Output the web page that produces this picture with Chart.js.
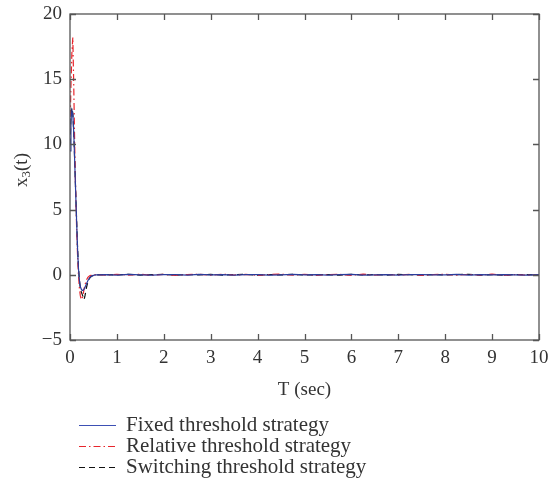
<!DOCTYPE html>
<html>
<head>
<meta charset="utf-8">
<script src="https://cdn.jsdelivr.net/npm/chart.js@4/dist/chart.umd.min.js"></script>
<style>
  html, body { margin: 0; padding: 0; background: #fff; }
  #wrap { width: 551px; height: 478px; }
</style>
</head>
<body>
<div id="wrap"><canvas id="myChart" width="551" height="478"></canvas></div>
<script>
// time samples (sec)
var times = [0, 0.02, 0.04, 0.06, 0.08, 0.10, 0.12, 0.14, 0.16, 0.18, 0.20, 0.22,
  0.24, 0.26, 0.28, 0.30, 0.32, 0.35, 0.38, 0.42, 0.46, 0.50, 0.55, 0.60,
  0.75, 1.0, 1.25, 1.5, 1.75, 2.0, 2.25, 2.5, 2.75, 3.0, 3.25, 3.5, 3.75, 4.0,
  4.25, 4.5, 4.75, 5.0, 5.25, 5.5, 5.75, 6.0, 6.25, 6.5, 6.75, 7.0, 7.25, 7.5,
  7.75, 8.0, 8.25, 8.5, 8.75, 9.0, 9.25, 9.5, 9.75, 10.0];

var fixedX3 = [9.5, 11.8, 12.6, 12.3, 10.9, 8.7, 6.4, 4.2, 2.1, 0.5, -0.4, -0.9,
  -1.1, -1.2, -1.2, -1.1, -0.95, -0.7, -0.45, -0.22, -0.1, -0.04, -0.01, 0.0,
  0.01, -0.02, 0.03, 0.0, -0.03, 0.02, 0.01, -0.02, 0.03, -0.01, 0.02, -0.03,
  0.01, 0.02, -0.02, 0.0, 0.03, -0.01, 0.02, -0.02, 0.01, 0.03, -0.02, 0.0,
  0.02, -0.03, 0.01, 0.02, -0.01, 0.0, 0.03, -0.02, 0.01, -0.01, 0.02, 0.0,
  -0.02, 0.01];

var relativeX3 = [11.0, 14.5, 17.0, 18.2, 14.5, 10.0, 6.5, 3.8, 1.6, 0.0, -1.0, -1.6,
  -1.9, -1.8, -1.5, -1.1, -0.75, -0.4, -0.2, -0.08, -0.02, 0.01, 0.0, 0.01,
  -0.03, 0.04, -0.02, 0.05, -0.04, 0.03, -0.05, 0.02, 0.04, -0.03, 0.05, -0.02,
  0.03, -0.04, 0.02, 0.05, -0.03, 0.04, -0.05, 0.02, 0.03, -0.04, 0.05, -0.02,
  0.03, -0.03, 0.04, -0.05, 0.02, 0.04, -0.03, 0.03, -0.02, 0.05, -0.04, 0.02,
  -0.03, 0.01];

var switchingX3 = [10.0, 12.0, 12.8, 12.4, 11.0, 8.8, 6.5, 4.3, 2.2, 0.6, -0.4, -1.0,
  -1.3, -1.5, -1.7, -1.9, -1.6, -1.0, -0.55, -0.25, -0.1, -0.04, -0.01, 0.0,
  0.02, -0.01, 0.03, -0.02, 0.01, 0.04, -0.03, 0.02, -0.01, 0.03, -0.02, 0.01,
  0.03, -0.03, 0.02, -0.01, 0.04, -0.02, 0.01, 0.02, -0.03, 0.03, -0.01, 0.02,
  -0.02, 0.03, 0.01, -0.03, 0.02, -0.01, 0.02, 0.03, -0.02, 0.01, -0.03, 0.02,
  0.01, -0.01];

var seriesNames = ['Fixed threshold strategy', 'Relative threshold strategy', 'Switching threshold strategy'];
var xTicks = [0, 1, 2, 3, 4, 5, 6, 7, 8, 9, 10];
var yTicks = [-5, 0, 5, 10, 15, 20];

var serif = '"Liberation Serif", "DejaVu Serif", serif';
var textColor = '#333';
var frameColor = '#555';

function points(values) {
  return times.map(function(t, i) { return { x: t, y: values[i] }; });
}

// frame with inward ticks on all four sides, titles and the legend under the axis
var frameBox = {
  id: 'frameBox',
  afterDraw: function(chart) {
    var ctx = chart.ctx;
    var a = chart.chartArea;
    var xs = chart.scales.x, ys = chart.scales.y;
    var tl = 6;
    ctx.save();
    ctx.strokeStyle = frameColor;
    ctx.lineWidth = 1.3;
    ctx.setLineDash([]);
    ctx.strokeRect(a.left, a.top, a.right - a.left, a.bottom - a.top);
    ctx.beginPath();
    xTicks.forEach(function(v) {
      var px = Math.round(xs.getPixelForValue(v)) + 0.5;
      ctx.moveTo(px, a.bottom); ctx.lineTo(px, a.bottom - tl);
      ctx.moveTo(px, a.top); ctx.lineTo(px, a.top + tl);
    });
    yTicks.forEach(function(v) {
      var py = Math.round(ys.getPixelForValue(v)) + 0.5;
      ctx.moveTo(a.left, py); ctx.lineTo(a.left + tl, py);
      ctx.moveTo(a.right, py); ctx.lineTo(a.right - tl, py);
    });
    ctx.stroke();

    // axis titles
    ctx.fillStyle = textColor;
    ctx.font = '19px ' + serif;
    ctx.textAlign = 'center';
    ctx.textBaseline = 'middle';
    ctx.fillText('T (sec)', (a.left + a.right) / 2, 390);

    ctx.save();
    ctx.translate(22, 170);
    ctx.rotate(-Math.PI / 2);
    ctx.textAlign = 'left';
    var w1 = ctx.measureText('x').width;
    ctx.font = '13px ' + serif;
    var w2 = ctx.measureText('3').width;
    ctx.font = '19px ' + serif;
    var w3 = ctx.measureText('(t)').width;
    var x0 = -(w1 + w2 + w3) / 2;
    ctx.fillText('x', x0, 0);
    ctx.font = '13px ' + serif;
    ctx.fillText('3', x0 + w1, 5);
    ctx.font = '19px ' + serif;
    ctx.fillText('(t)', x0 + w1 + w2, 0);
    ctx.restore();

    // legend
    ctx.textAlign = 'left';
    ctx.font = '21px ' + serif;
    chart.data.datasets.forEach(function(ds, i) {
      var y = 425 + i * 21;
      ctx.strokeStyle = ds.legendColor || ds.borderColor;
      ctx.lineWidth = 1.2;
      ctx.setLineDash(ds.borderDash || []);
      ctx.beginPath();
      ctx.moveTo(79, y + 0.5);
      ctx.lineTo(116, y + 0.5);
      ctx.stroke();
      ctx.fillStyle = textColor;
      ctx.fillText(ds.label, 126, y);
    });
    ctx.restore();
  }
};

var ctx = document.getElementById('myChart').getContext('2d');
var chart = new Chart(ctx, {
  type: 'line',
  data: {
    datasets: [{
      label: seriesNames[0],
      data: points(fixedX3),
      borderColor: '#2b3d9c',
      legendColor: '#3d50b4',
      borderWidth: 1.2
    }, {
      label: seriesNames[1],
      data: points(relativeX3),
      borderColor: '#e8262d',
      borderWidth: 1.2,
      borderDash: [7, 3, 1.5, 3]
    }, {
      label: seriesNames[2],
      data: points(switchingX3),
      borderColor: '#111111',
      borderWidth: 1.2,
      borderDash: [6, 4]
    }]
  },
  options: {
    responsive: false,
    animation: false,
    layout: { padding: { left: 0, right: 12, top: 14, bottom: 0 } },
    elements: { point: { radius: 0 }, line: { tension: 0 } },
    plugins: { legend: { display: false }, tooltip: { enabled: false } },
    scales: {
      x: {
        type: 'linear',
        min: 0,
        max: 10,
        afterBuildTicks: function(scale) { scale.ticks = xTicks.map(function(v) { return { value: v }; }); },
        afterFit: function(scale) {
          scale.height = 138;
          scale.paddingLeft = 0;
          scale.paddingRight = 0;
        },
        grid: { display: false, drawTicks: false },
        border: { display: false },
        ticks: { color: textColor, font: { family: serif, size: 19 }, padding: 7, maxRotation: 0 }
      },
      y: {
        min: -5,
        max: 20,
        afterBuildTicks: function(scale) { scale.ticks = yTicks.map(function(v) { return { value: v }; }); },
        afterFit: function(scale) {
          scale.width = 70;
          scale.paddingTop = 0;
          scale.paddingBottom = 0;
        },
        grid: { display: false, drawTicks: false },
        border: { display: false },
        ticks: {
          color: textColor, font: { family: serif, size: 19 }, padding: 8,
          callback: function(v) { return String(v).replace('-', '\u2212'); }
        }
      }
    }
  },
  plugins: [frameBox]
});
</script>
</body>
</html>
